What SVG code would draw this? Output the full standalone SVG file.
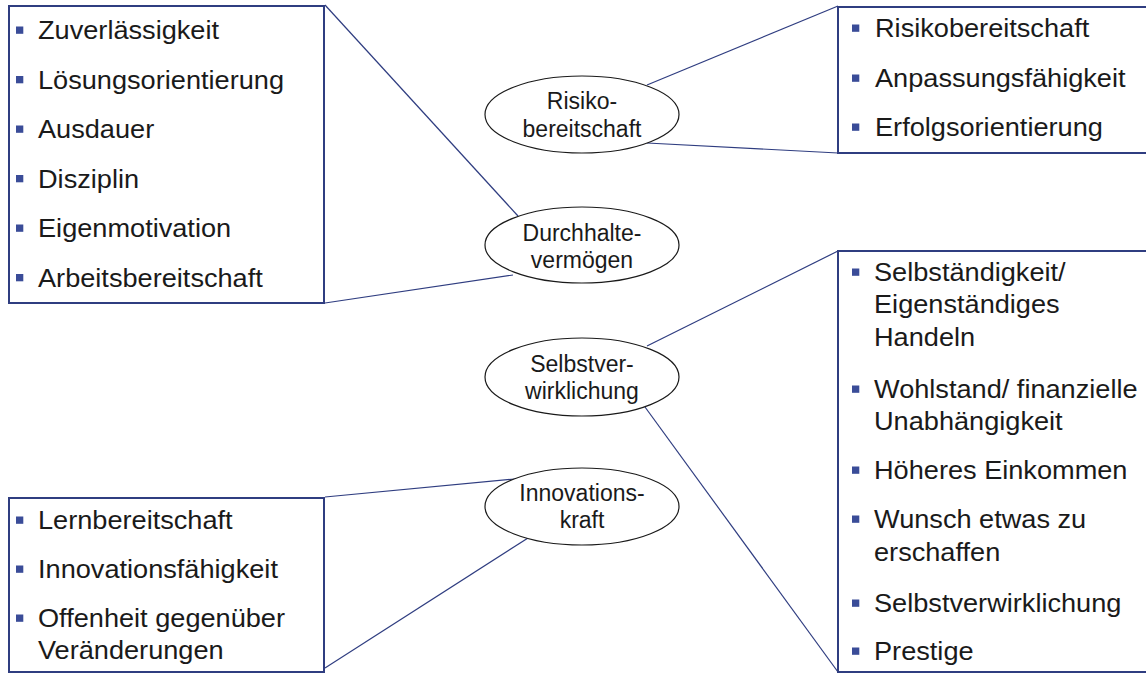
<svg xmlns="http://www.w3.org/2000/svg" width="1146" height="673" viewBox="0 0 1146 673">
<style>
.box{fill:#fff;stroke:#2F3D80;stroke-width:2}
.ell{fill:#fff;stroke:#1a1a1a;stroke-width:1.2}
.con line{stroke:#2F3D80;stroke-width:1.2}
.bt{font-family:"Liberation Sans",Arial,sans-serif;font-size:25.5px;fill:#1a1a1a}
.et{font-family:"Liberation Sans",Arial,sans-serif;font-size:23px;fill:#1a1a1a;text-anchor:middle}
.b{fill:#3A4C98}
</style>
<rect width="1146" height="673" fill="#fff"/>
<g class="con">
<line x1="325" y1="5" x2="518" y2="216"/>
<line x1="513" y1="275" x2="325" y2="303"/>
<line x1="838" y1="6" x2="647" y2="85"/>
<line x1="647" y1="143" x2="838" y2="153"/>
<line x1="647" y1="346" x2="838" y2="251"/>
<line x1="645" y1="407" x2="838" y2="672"/>
<line x1="515" y1="479" x2="325" y2="497"/>
<line x1="528" y1="538" x2="325" y2="668"/>
</g>
<g id="box-durchhalte">
<rect class="box" x="9" y="6" width="315" height="297"/>
<rect class="b" x="16" y="26.5" width="7.3" height="7.3"/>
<rect class="b" x="16" y="76" width="7.3" height="7.3"/>
<rect class="b" x="16" y="125.5" width="7.3" height="7.3"/>
<rect class="b" x="16" y="175" width="7.3" height="7.3"/>
<rect class="b" x="16" y="224.5" width="7.3" height="7.3"/>
<rect class="b" x="16" y="274" width="7.3" height="7.3"/>
<g transform="translate(38,0) scale(1.065,1)">
<text class="bt" x="0" y="39.5">Zuverlässigkeit</text>
<text class="bt" x="0" y="89">Lösungsorientierung</text>
<text class="bt" x="0" y="138.5">Ausdauer</text>
<text class="bt" x="0" y="188">Disziplin</text>
<text class="bt" x="0" y="237.5">Eigenmotivation</text>
<text class="bt" x="0" y="287">Arbeitsbereitschaft</text>
</g>
</g>
<g id="box-risiko">
<rect class="box" x="838" y="7" width="320" height="146"/>
<rect class="b" x="852" y="24.5" width="7.3" height="7.3"/>
<rect class="b" x="852" y="74.5" width="7.3" height="7.3"/>
<rect class="b" x="852" y="123.5" width="7.3" height="7.3"/>
<g transform="translate(875,0) scale(1.065,1)">
<text class="bt" x="0" y="37">Risikobereitschaft</text>
<text class="bt" x="0" y="87">Anpassungsfähigkeit</text>
<text class="bt" x="0" y="136">Erfolgsorientierung</text>
</g>
</g>
<g id="box-selbst">
<rect class="box" x="838" y="251" width="320" height="421"/>
<rect class="b" x="852" y="268.5" width="7.3" height="7.3"/>
<rect class="b" x="852" y="385.5" width="7.3" height="7.3"/>
<rect class="b" x="852" y="466.5" width="7.3" height="7.3"/>
<rect class="b" x="852" y="515.5" width="7.3" height="7.3"/>
<rect class="b" x="852" y="599.5" width="7.3" height="7.3"/>
<rect class="b" x="852" y="647.5" width="7.3" height="7.3"/>
<g transform="translate(874,0) scale(1.065,1)">
<text class="bt" x="0" y="281">Selbständigkeit/</text>
<text class="bt" x="0" y="313.5">Eigenständiges</text>
<text class="bt" x="0" y="346">Handeln</text>
<text class="bt" x="0" y="398">Wohlstand/ finanzielle</text>
<text class="bt" x="0" y="430">Unabhängigkeit</text>
<text class="bt" x="0" y="479">Höheres Einkommen</text>
<text class="bt" x="0" y="528">Wunsch etwas zu</text>
<text class="bt" x="0" y="561">erschaffen</text>
<text class="bt" x="0" y="612">Selbstverwirklichung</text>
<text class="bt" x="0" y="660">Prestige</text>
</g>
</g>
<g id="box-innovation">
<rect class="box" x="9" y="498" width="315" height="174"/>
<rect class="b" x="16" y="516.5" width="7.3" height="7.3"/>
<rect class="b" x="16" y="565.5" width="7.3" height="7.3"/>
<rect class="b" x="16" y="614.5" width="7.3" height="7.3"/>
<g transform="translate(38,0) scale(1.065,1)">
<text class="bt" x="0" y="529">Lernbereitschaft</text>
<text class="bt" x="0" y="578">Innovationsfähigkeit</text>
<text class="bt" x="0" y="627">Offenheit gegenüber</text>
<text class="bt" x="0" y="659">Veränderungen</text>
</g>
</g>
<g id="node-risiko">
<ellipse class="ell" cx="582" cy="114.5" rx="97" ry="38.5"/>
<text class="et" x="582" y="109">Risiko-</text>
<text class="et" x="582" y="136.5">bereitschaft</text>
</g>
<g id="node-durchhalte">
<ellipse class="ell" cx="582" cy="245" rx="97" ry="38"/>
<text class="et" x="582" y="241">Durchhalte-</text>
<text class="et" x="582" y="268">vermögen</text>
</g>
<g id="node-selbst">
<ellipse class="ell" cx="582" cy="377" rx="97" ry="39"/>
<text class="et" x="582" y="372">Selbstver-</text>
<text class="et" x="582" y="398.5">wirklichung</text>
</g>
<g id="node-innovation">
<ellipse class="ell" cx="582" cy="506.5" rx="97" ry="38.5"/>
<text class="et" x="582" y="501">Innovations-</text>
<text class="et" x="582" y="528">kraft</text>
</g>
</svg>
